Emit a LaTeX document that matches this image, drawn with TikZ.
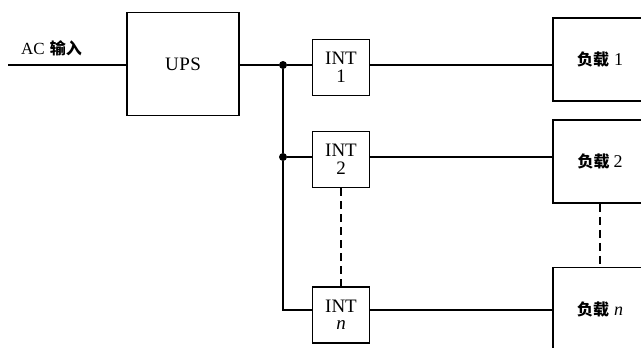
\documentclass[tikz,border=0pt]{standalone}
\usepackage{fontspec}
\setmainfont{Liberation Serif}
\newfontfamily\cjk{Noto Sans CJK SC}
\begin{document}
\begin{tikzpicture}[x=1pt,y=-1pt,
  box/.style={draw,line width=1.8pt,inner sep=0pt,align=center},
  intbox/.style={box,minimum width=57pt,minimum height=56pt,font=\fontsize{19}{17.5}\selectfont},
  loadbox/.style={box,minimum width=94pt,minimum height=83pt,font=\fontsize{18}{18}\selectfont},
  wire/.style={line width=1.4pt},
  dot/.style={circle,fill,inner sep=0pt,minimum size=8pt}]
\useasboundingbox (0,0) rectangle (641,348);
\clip (0,0) rectangle (641,348);
\node[box,minimum width=112pt,minimum height=103pt,font=\fontsize{19}{19}\selectfont] (ups) at (183,64) {U\kern0.5pt P\kern0.5pt S};
\coordinate (ac) at (8,65);
\node[anchor=base west,inner sep=0pt,font=\fontsize{17}{17}\selectfont] (aclbl) at (21,54) {AC\hspace{5pt}{\fontsize{16}{16}\cjk\bfseries 输入}};
\node[intbox] (int1) at (341,67.5) {INT\\1};
\node[intbox] (int2) at (341,159.5) {INT\\2};
\node[intbox] (intn) at (341,315) {INT\\\textit{n}};
\node[loadbox] (load1) at (600,59.5) {{\fontsize{16}{16}\cjk\bfseries 负载}\hspace{5pt}1};
\node[loadbox] (load2) at (600,161.5) {{\fontsize{16}{16}\cjk\bfseries 负载}\hspace{4pt}2};
\node[loadbox] (loadn) at (600,309) {{\fontsize{16}{16}\cjk\bfseries 负载}\hspace{5pt}\textit{n}};
\node[dot] (j1) at (283,65) {};
\node[dot] (j2) at (283,157) {};
\coordinate (jn) at (283,310);
\draw[wire] (ac) -- (ac -| ups.west);
\draw[wire] (j1 -| ups.east) -- (j1) -- (j1 -| int1.west);
\draw[wire] (j1) -- (j2) -- (jn) -- (jn -| intn.west);
\draw[wire] (j2) -- (j2 -| int2.west);
\draw[wire] (j1 -| int1.east) -- (j1 -| load1.west);
\draw[wire] (j2 -| int2.east) -- (j2 -| load2.west);
\draw[wire] (jn -| intn.east) -- (jn -| loadn.west);
\draw[wire,dash pattern=on 8pt off 5pt] (int2.south) -- (intn.north);
\draw[wire,dash pattern=on 8pt off 5pt] (load2.south) -- (loadn.north);
\end{tikzpicture}
\end{document}
